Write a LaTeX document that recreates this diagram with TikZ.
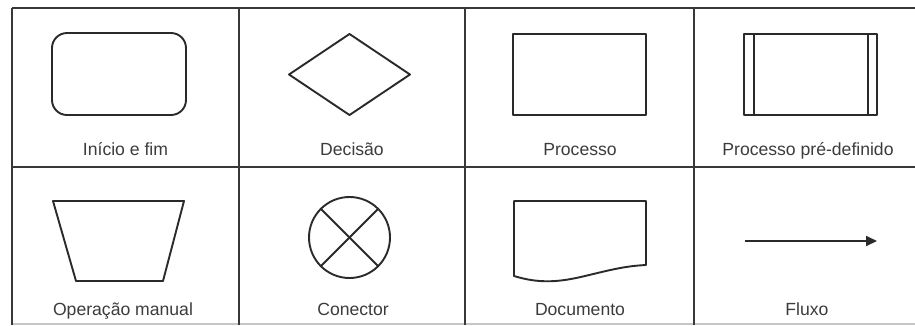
\documentclass[tikz,border=0pt]{standalone}
\usepackage{fontspec}
\setmainfont{Liberation Sans}
\usetikzlibrary{arrows.meta}
\definecolor{ink}{HTML}{2A2A2A}
\definecolor{txt}{HTML}{3C3C3C}
\definecolor{gridc}{HTML}{383838}
\begin{document}
\begin{tikzpicture}[x=1pt,y=-1pt,
  shapeline/.style={draw=ink,line width=1.9pt,line join=round},
  gridline/.style={draw=gridc,line width=2pt},
  faintline/.style={draw=gray!45,line width=1.2pt},
  lbl/.style={anchor=base,text=txt,font=\fontsize{17.6}{19}\selectfont,inner sep=0pt}]
\path[use as bounding box, fill=white] (0,0) rectangle (915,325);
% grid
\draw[gridline] (12,8) -- (915,8);
\draw[gridline] (12,167) -- (915,167);
\draw[faintline] (12,324) -- (915,324);
\foreach \gx in {12,239,465,694} {\draw[gridline] (\gx,8) -- (\gx,325);}
% row 1 shapes
\draw[shapeline, rounded corners=15pt] (52,33) rectangle (186,115);
\draw[shapeline] (289,74.5) -- (349.5,34) -- (410,74.5) -- (349.5,115) -- cycle;
\draw[shapeline] (513,34) rectangle (646,115);
\draw[shapeline] (744,34) rectangle (877,115);
\draw[shapeline] (754,34) -- (754,115);
\draw[shapeline] (868,34) -- (868,115);
% row 2 shapes
\draw[shapeline] (53,201) -- (184,201) -- (163,281) -- (76,281) -- cycle;
\coordinate (cc) at (349.5,237.5);
\draw[shapeline] (cc) circle (40.5);
\draw[shapeline] (cc) ++(45:40.5) -- ++(225:81);
\draw[shapeline] (cc) ++(135:40.5) -- ++(315:81);
\draw[shapeline] (646,265) -- (646,201) -- (514,201) -- (514,276)
  .. controls (540,284) and (560,282) .. (585,276)
  .. controls (610,270) and (625,266) .. (646,265) -- cycle;
\coordinate (fa) at (745,241);
\coordinate (fb) at (877,241);
\draw[draw=ink,line width=1.9pt,-{Triangle[length=11pt,width=10pt]}] (fa) -- (fb);
% labels
\node[lbl] (l1) at (125.5,155) {Início e fim};
\node[lbl] (l2) at (352,155) {Decisão};
\node[lbl] (l3) at (580,155) {Processo};
\node[lbl] (l4) at (808,155) {Processo pré-definido};
\node[lbl] (l5) at (123,315) {Operação manual};
\node[lbl] (l6) at (353,315) {Conector};
\node[lbl] (l7) at (580,315) {Documento};
\node[lbl] (l8) at (807,315) {Fluxo};
\end{tikzpicture}
\end{document}
